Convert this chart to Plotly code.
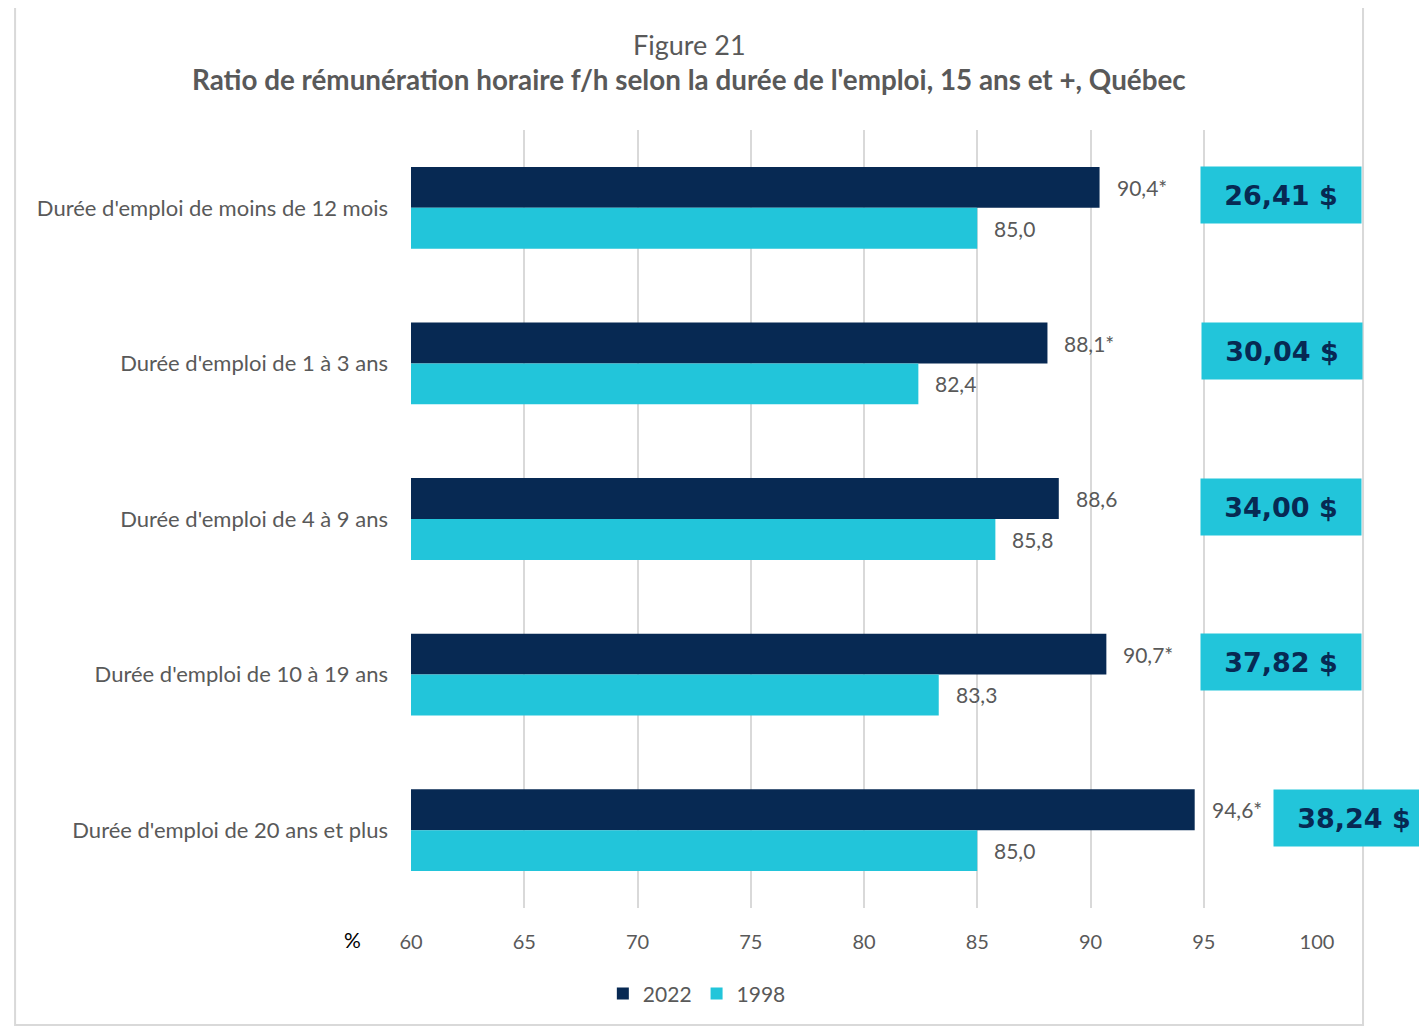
import plotly.graph_objects as go

categories = [
    "Durée d'emploi de moins de 12 mois",
    "Durée d'emploi de 1 à 3 ans",
    "Durée d'emploi de 4 à 9 ans",
    "Durée d'emploi de 10 à 19 ans",
    "Durée d'emploi de 20 ans et plus",
]
values_2022 = [90.4, 88.1, 88.6, 90.7, 94.6]
labels_2022 = ["90,4*", "88,1*", "88,6", "90,7*", "94,6*"]
values_1998 = [85.0, 82.4, 85.8, 83.3, 85.0]
labels_1998 = ["85,0", "82,4", "85,8", "83,3", "85,0"]
wages = ["26,41 $", "30,04 $", "34,00 $", "37,82 $", "38,24 $"]
wage_x = [98.4, 98.45, 98.4, 98.4, 101.65]
x_ticks = [60, 65, 70, 75, 80, 85, 90, 95, 100]
X_MIN, X_MAX = 60, 100

NAVY = "#072953"
CYAN = "#22C5DA"
GRAY = "#595959"
FONT = "Lato"

fig = go.Figure()
fig.add_trace(go.Bar(y=categories, x=values_2022, orientation="h", name="2022",
                     marker=dict(color=NAVY, line=dict(width=0)), base=0))
fig.add_trace(go.Bar(y=categories, x=values_1998, orientation="h", name="1998",
                     marker=dict(color=CYAN, line=dict(width=0)), base=0))

annotations = []
off = 0.131
for i in range(len(categories)):
    annotations.append(dict(x=values_2022[i], y=i - off, xref="x", yref="y",
                            text=labels_2022[i], showarrow=False, xanchor="left",
                            xshift=15, font=dict(family=FONT, size=21, color=GRAY)))
    annotations.append(dict(x=values_1998[i], y=i + off, xref="x", yref="y",
                            text=labels_1998[i], showarrow=False, xanchor="left",
                            xshift=15, font=dict(family=FONT, size=21, color=GRAY)))
    annotations.append(dict(x=(wage_x[i] - X_MIN) / (X_MAX - X_MIN), y=i - 0.08,
                            xref="paper", yref="y",
                            text="<b>" + wages[i] + "</b>", showarrow=False,
                            xanchor="center", yanchor="middle",
                            width=158, height=54, borderpad=1, bgcolor=CYAN,
                            font=dict(family="DejaVu Sans", size=27, color=NAVY)))

annotations.append(dict(x=0.307, y=1.1105, xref="paper", yref="paper", text="Figure 21",
                        showarrow=False, xanchor="center", yanchor="middle",
                        font=dict(family=FONT, size=27, color=GRAY)))
annotations.append(dict(x=0.307, y=1.0643, xref="paper", yref="paper",
                        text="<b>Ratio de rémunération horaire f/h selon la durée de l'emploi, 15 ans et +, Québec</b>",
                        showarrow=False, xanchor="center", yanchor="middle",
                        font=dict(family=FONT, size=27.8, color=GRAY)))
annotations.append(dict(x=-0.065, y=-0.041, xref="paper", yref="paper", text="%",
                        showarrow=False, xanchor="center", yanchor="middle",
                        font=dict(family=FONT, size=21, color="#000000")))

fig.update_layout(
    width=1427, height=1027,
    margin=dict(l=403, r=118, t=122, b=127),
    paper_bgcolor="white", plot_bgcolor="white",
    barmode="group", bargap=0.474, bargroupgap=0,
    font=dict(family=FONT, size=20, color=GRAY),
    showlegend=True,
    legend=dict(orientation="h", x=0.3155, xanchor="center", y=-0.1105, yanchor="middle",
                font=dict(family=FONT, size=21, color=GRAY), itemwidth=30,
                traceorder="normal"),
    annotations=annotations,
    shapes=[dict(type="rect", xref="paper", yref="paper", x0=-0.437, x1=1.0508,
                 y0=-0.1504, y1=1.1607, line=dict(color="#D9D9D9", width=2),
                 fillcolor="rgba(0,0,0,0)", layer="below")],
)
fig.update_xaxes(range=[X_MIN, X_MAX], tickvals=x_ticks, showgrid=True, gridcolor="#D9D9D9",
                 gridwidth=2, zeroline=False, showline=False, ticks="",
                 ticklabelstandoff=20, tickfont=dict(family=FONT, size=20, color=GRAY))
fig.update_yaxes(autorange="reversed", showgrid=False, showline=False, ticks="",
                 ticklabelstandoff=22, tickfont=dict(family=FONT, size=22, color=GRAY))

fig.write_html("out.html")
